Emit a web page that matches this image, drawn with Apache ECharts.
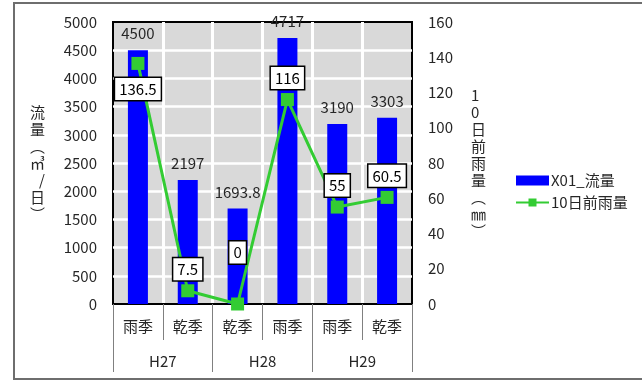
<!DOCTYPE html>
<html>
<head>
<meta charset="utf-8">
<script src="https://cdn.jsdelivr.net/npm/echarts@6/dist/echarts.min.js"></script>
<style>
html,body{margin:0;padding:0;background:#fff;}
#main{width:642px;height:381px;}
</style>
</head>
<body>
<div id="main"></div>
<script>
// データ
var seasons = ['雨季', '乾季', '乾季', '雨季', '雨季', '乾季'];
var years = ['H27', 'H28', 'H29'];
var flowData = [4500, 2197, 1693.8, 4717, 3190, 3303];
var rainData = [136.5, 7.5, 0, 116, 55, 60.5];
var flowTicks = { min: 0, max: 5000, interval: 500 };
var rainTicks = { min: 0, max: 160, interval: 20 };

var chart = echarts.init(document.getElementById('main'));
var fontJP = '"Noto Sans CJK JP", sans-serif';
var txtColor = '#262626';

// 雨量ラベルの位置（Excelで手動調整されたもの）
var rainLabelPos = [
	{ position: 'bottom', distance: 8 },
	{ position: 'top', distance: 4 },
	{ position: 'top', distance: 34 },
	{ position: 'top', distance: 4 },
	{ position: 'top', distance: 4 },
	{ position: 'top', distance: 4 }
];
var rainSeriesData = rainData.map(function(v, i) {
	return { value: v, label: rainLabelPos[i] };
});

var option = {
	animation: false,
	textStyle: { fontFamily: fontJP },
	graphic: [{
		type: 'rect',
		left: 13, top: 2,
		shape: { width: 640, height: 376 },
		style: { fill: '#fff', stroke: '#6e6e6e', lineWidth: 2 },
		z: -10
	}],
	grid: {
		left: 113, top: 22, right: 230, bottom: 77,
		show: true,
		backgroundColor: '#d9d9d9',
		borderColor: '#000',
		borderWidth: 2
	},
	legend: {
		orient: 'vertical',
		left: 510,
		top: 168,
		itemWidth: 33,
		itemHeight: 10,
		itemGap: 7,
		textStyle: { fontSize: 15, color: txtColor, fontFamily: fontJP, padding: [0, 0, 0, -3] },
		data: [{ name: 'X01_流量', icon: 'rect' }, { name: '10日前雨量' }]
	},
	xAxis: [{
		type: 'category',
		position: 'bottom',
		data: seasons,
		axisLine: { show: true, lineStyle: { color: '#000', width: 2 } },
		axisTick: { show: true, interval: 0, length: 36, lineStyle: { color: '#808080', width: 1 } },
		axisLabel: { interval: 0, margin: 15, fontSize: 15, color: txtColor, fontFamily: fontJP },
		splitLine: { show: true, interval: 0, showMinLine: false, showMaxLine: false, lineStyle: { color: '#fff', width: 3 } }
	}, {
		type: 'category',
		position: 'bottom',
		data: years,
		axisLine: { show: false },
		axisTick: { show: true, interval: 0, length: 68, lineStyle: { color: '#808080', width: 1 } },
		axisLabel: { interval: 0, margin: 50, fontSize: 15, color: txtColor, fontFamily: fontJP },
		splitLine: { show: false }
	}],
	yAxis: [{
		type: 'value',
		position: 'left',
		min: flowTicks.min, max: flowTicks.max, interval: flowTicks.interval,
		name: '流\n量\n︵\n㎥\n/\n日\n︶',
		nameLocation: 'middle',
		nameRotate: 0,
		nameGap: 68,
		nameTextStyle: { fontSize: 15, lineHeight: 17, color: txtColor, fontFamily: fontJP },
		axisLine: { show: false },
		axisTick: { show: false },
		axisLabel: {
			margin: 16, fontSize: 15, color: txtColor, fontFamily: fontJP,
			formatter: function(v) { return String(v); }
		},
		splitLine: { show: true, showMinLine: false, showMaxLine: false, lineStyle: { color: '#fff', width: 2.5 } }
	}, {
		type: 'value',
		position: 'right',
		min: rainTicks.min, max: rainTicks.max, interval: rainTicks.interval,
		name: '1\n0\n日\n前\n雨\n量\n︵\n㎜\n︶',
		nameLocation: 'middle',
		nameRotate: 0,
		nameGap: 59,
		nameTextStyle: { fontSize: 15, lineHeight: 17, color: txtColor, fontFamily: fontJP },
		axisLine: { show: false },
		axisTick: { show: false },
		axisLabel: {
			margin: 16, fontSize: 15, color: txtColor, fontFamily: fontJP,
			formatter: function(v) { return String(v); }
		},
		splitLine: { show: false }
	}],
	series: [{
		name: 'X01_流量',
		type: 'bar',
		xAxisIndex: 0,
		yAxisIndex: 0,
		barWidth: 20,
		data: flowData,
		itemStyle: { color: '#0000ff' },
		label: {
			show: true,
			position: 'top',
			distance: 9,
			fontSize: 15,
			color: txtColor,
			fontFamily: fontJP
		}
	}, {
		name: '10日前雨量',
		type: 'line',
		xAxisIndex: 0,
		yAxisIndex: 1,
		data: rainSeriesData,
		symbol: 'rect',
		symbolSize: 13,
		lineStyle: { color: '#33cc33', width: 3 },
		itemStyle: { color: '#33cc33' },
		label: {
			show: true,
			fontSize: 15,
			color: '#000',
			fontFamily: fontJP,
			backgroundColor: '#fff',
			borderColor: '#000',
			borderWidth: 1.5,
			padding: [2, 4, 2, 4],
			lineHeight: 18
		},
		z: 3
	}]
};
chart.setOption(option);
window.onresize = function() {
	chart.resize();
};
</script>
</body>
</html>
